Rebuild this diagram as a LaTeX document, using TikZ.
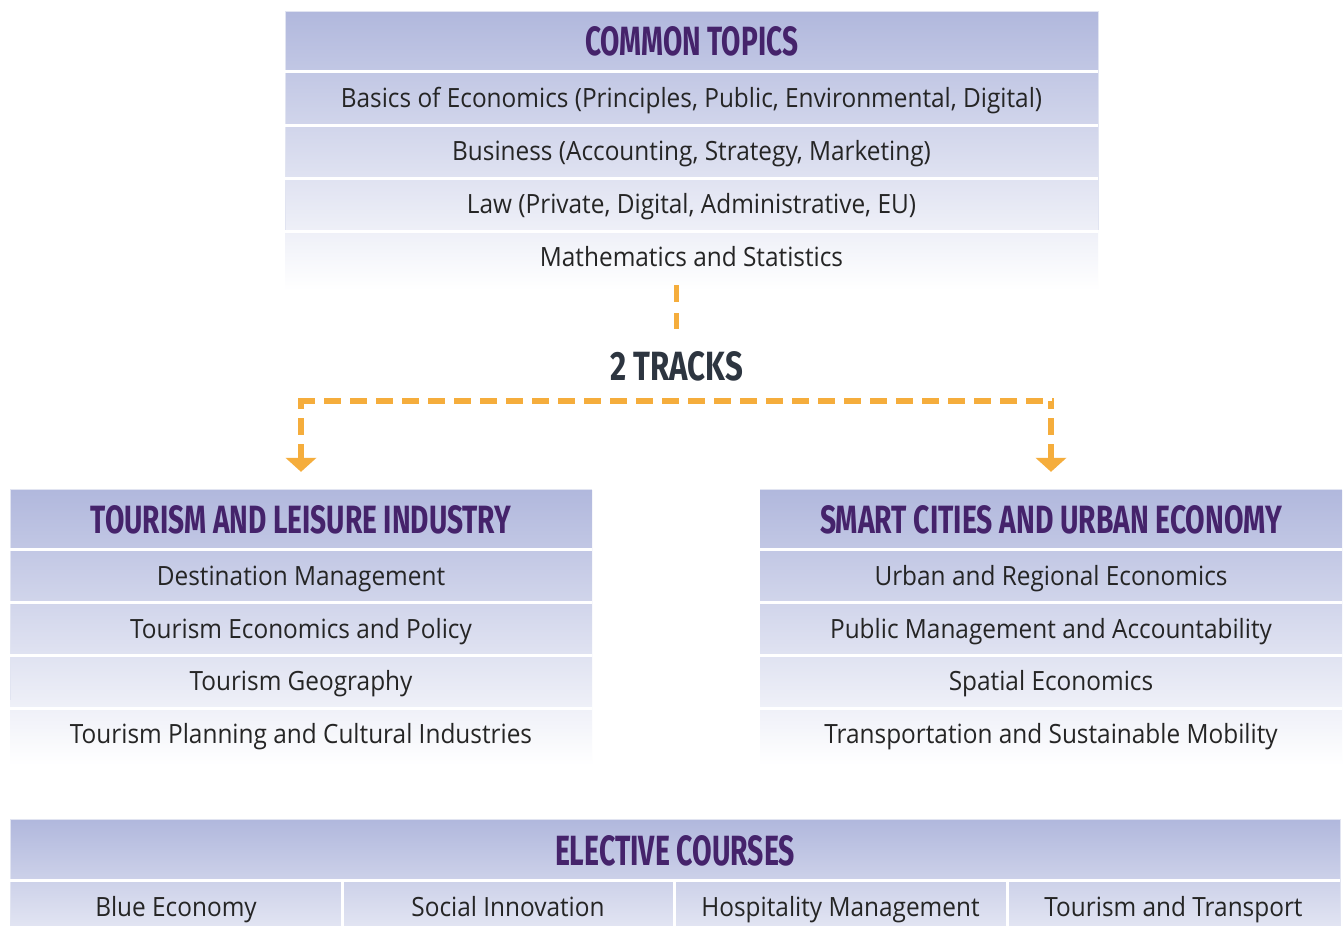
\documentclass[tikz,border=0pt]{standalone}
\usepackage{fontspec}
\setmainfont{Open Sans}[FakeStretch=0.92]
\newfontfamily\hdfont{Fira Sans}
\usetikzlibrary{arrows.meta}
\definecolor{hdtop}{HTML}{B1B8DD}
\definecolor{hdpurple}{HTML}{45236B}
\definecolor{trk}{HTML}{2D3540}
\definecolor{orng}{HTML}{F5AD3C}
\definecolor{txt}{HTML}{252525}
\definecolor{edge}{HTML}{E1E4F1}
\newcommand{\hdtxt}[3]{\resizebox{#1pt}{#2pt}{\hdfont\bfseries #3}}
\begin{document}
\begin{tikzpicture}[x=1pt,y=-1pt,
  rowtext/.style={text=txt,font=\fontsize{26.5}{29}\selectfont,inner sep=0pt,anchor=base},
  head/.style={inner sep=0pt,text=hdpurple,anchor=center},
  sep/.style={white,line width=3pt},
  trackline/.style={orng,line width=5.5pt,dash pattern=on 17pt off 9pt},
  tip/.style={fill=orng}
]
\useasboundingbox (0,0) rectangle (1344,926);
\fill[white] (0,0) rectangle (1344,926);

% ---------- common topics ----------
\shade[top color=hdtop,bottom color=white] (285,12) rectangle (1098,290);
\draw[edge,line width=1pt] (285,11) -- (1098,11);
\draw[edge,line width=0.8pt] (285,11) -- (285,230) (1098,11) -- (1098,230);
\foreach \y in {71,125,178,231} \draw[sep] (285,\y) -- (1098,\y);
\node[head,minimum width=813pt,minimum height=59pt] (comhd) at (691.5,41.5) {\hdtxt{213}{29}{COMMON TOPICS}};
\node[rowtext] (c1) at (691.5,107) {Basics of Economics (Principles, Public, Environmental, Digital)};
\node[rowtext] (c2) at (691.5,160) {Business (Accounting, Strategy, Marketing)};
\node[rowtext] (c3) at (691.5,213) {Law (Private, Digital, Administrative, EU)};
\node[rowtext] (c4) at (691.5,266) {Mathematics and Statistics};
\coordinate (c4b) at (676.5,285);

% ---------- 2 tracks ----------
\node[inner sep=0pt,text=trk] (tracks) at (676.5,366.5) {\hdtxt{133}{29}{2 TRACKS}};
\draw[orng,line width=5pt,dash pattern=on 17pt off 11pt] (c4b) -- ([yshift=22pt]tracks.north);

% ---------- left track ----------
\shade[top color=hdtop,bottom color=white] (10,490) rectangle (592,765);
\draw[edge,line width=0.8pt] (10,489) -- (592,489) (10,489) -- (10,700);
\foreach \y in {549,602,655,708} \draw[sep] (10,\y) -- (592,\y);
\node[head,minimum width=582pt,minimum height=59pt] (tourhd) at (301,519.5) {\hdtxt{420}{28}{TOURISM AND LEISURE INDUSTRY}};
\node[rowtext] (t1) at (301,585) {Destination Management};
\node[rowtext] (t2) at (301,638) {Tourism Economics and Policy};
\node[rowtext] (t3) at (301,690) {Tourism Geography};
\node[rowtext] (t4) at (301,743) {Tourism Planning and Cultural Industries};

% ---------- right track ----------
\shade[top color=hdtop,bottom color=white] (760,490) rectangle (1342,765);
\draw[edge,line width=0.8pt] (760,489) -- (1342,489);
\foreach \y in {549,602,655,708} \draw[sep] (760,\y) -- (1342,\y);
\node[head,minimum width=582pt,minimum height=59pt] (smarthd) at (1051,519.5) {\hdtxt{462}{28}{SMART CITIES AND URBAN ECONOMY}};
\node[rowtext] (s1) at (1051,585) {Urban and Regional Economics};
\node[rowtext] (s2) at (1051,638) {Public Management and Accountability};
\node[rowtext] (s3) at (1051,690) {Spatial Economics};
\node[rowtext] (s4) at (1051,743) {Transportation and Sustainable Mobility};

% ---------- track connectors ----------
\path (0,401) coordinate (hy);
\coordinate (L) at (tourhd.north |- hy);
\coordinate (R) at (smarthd.north |- hy);
\draw[trackline] ([xshift=-2.75pt]L) -- ([xshift=2.75pt]R);
\draw[trackline,dash phase=9pt] (L) -- ([shift={(0,-32)}]tourhd.north);
\draw[trackline,dash phase=9pt] (R) -- ([shift={(0,-32)}]smarthd.north);
\fill[tip] ([shift={(-15.5,-32)}]tourhd.north) -- ([shift={(15.5,-32)}]tourhd.north) -- ([shift={(0,-18)}]tourhd.north) -- cycle;
\fill[tip] ([shift={(-15.5,-32)}]smarthd.north) -- ([shift={(15.5,-32)}]smarthd.north) -- ([shift={(0,-18)}]smarthd.north) -- cycle;

% ---------- elective ----------
\shade[top color=hdtop,bottom color=white] (10,820) rectangle (1340,990);
\draw[edge,line width=0.8pt] (10,819) -- (1340,819) (10,819) -- (10,926) (1340,819) -- (1340,926);
\draw[sep] (10,880.5) -- (1340,880.5);
\foreach \x in {342,674,1007} \draw[sep] (\x,881) -- (\x,926);
\node[head,minimum width=1330pt,minimum height=60pt] (elhd) at (675,850.5) {\hdtxt{240}{30}{ELECTIVE COURSES}};
\node[rowtext] (e1) at (176,916) {Blue Economy};
\node[rowtext] (e2) at (508,916) {Social Innovation};
\node[rowtext] (e3) at (840.5,916) {Hospitality Management};
\node[rowtext] (e4) at (1173.5,916) {Tourism and Transport};
\end{tikzpicture}
\end{document}
